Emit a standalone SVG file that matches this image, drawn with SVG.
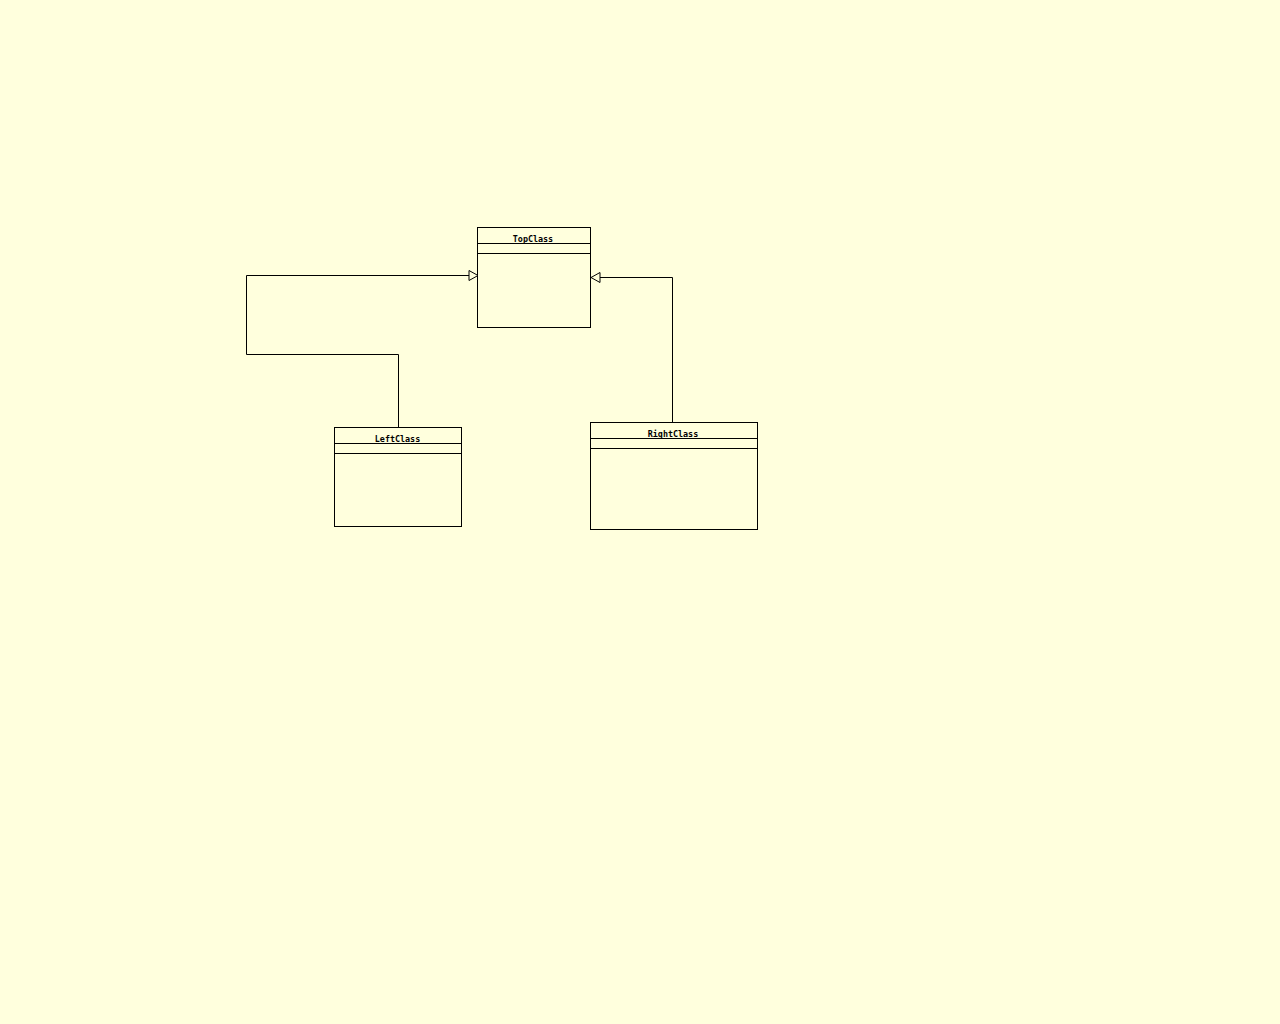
<svg xmlns="http://www.w3.org/2000/svg" width="1280" height="1024" viewBox="0 0 1280 1024">
  <defs>
    <style>
      .box { fill: #ffffdd; stroke: #000; stroke-width: 1; }
      .sep { stroke: #000; stroke-width: 1; }
      .name { font-family: "DejaVu Sans Mono", "Liberation Mono", monospace; font-size: 8.4px; font-weight: bold; fill: #000; text-anchor: middle; }
      .edge { fill: none; stroke: #000; stroke-width: 1; }
      .head { fill: #ffffdd; stroke: #000; stroke-width: 1; }
    </style>
  </defs>
  <rect width="1280" height="1024" fill="#ffffdd"/>

  <g id="TopClass">
    <rect class="box" x="477.5" y="227.5" width="113" height="100"/>
    <line class="sep" x1="477.5" y1="243.5" x2="590.5" y2="243.5"/>
    <line class="sep" x1="477.5" y1="253.5" x2="590.5" y2="253.5"/>
    <text class="name" x="533" y="242">TopClass</text>
  </g>

  <g id="LeftClass">
    <rect class="box" x="334.5" y="427.5" width="127" height="99"/>
    <line class="sep" x1="334.5" y1="443.5" x2="461.5" y2="443.5"/>
    <line class="sep" x1="334.5" y1="453.5" x2="461.5" y2="453.5"/>
    <text class="name" x="397.5" y="442">LeftClass</text>
  </g>

  <g id="RightClass">
    <rect class="box" x="590.5" y="422.5" width="167" height="107"/>
    <line class="sep" x1="590.5" y1="438.5" x2="757.5" y2="438.5"/>
    <line class="sep" x1="590.5" y1="448.5" x2="757.5" y2="448.5"/>
    <text class="name" x="673" y="437">RightClass</text>
  </g>

  <g id="connectors">
    <!-- LeftClass generalizes TopClass -->
    <polyline class="edge" points="398.5,427.5 398.5,354.5 246.5,354.5 246.5,275.5 469,275.5"/>
    <polygon class="head" points="469,270.5 478,275.5 469,280.5"/>
    <!-- RightClass generalizes TopClass -->
    <polyline class="edge" points="672.5,422.5 672.5,277.5 600,277.5"/>
    <polygon class="head" points="600,272.5 591,277.5 600,282.5"/>
  </g>
</svg>
